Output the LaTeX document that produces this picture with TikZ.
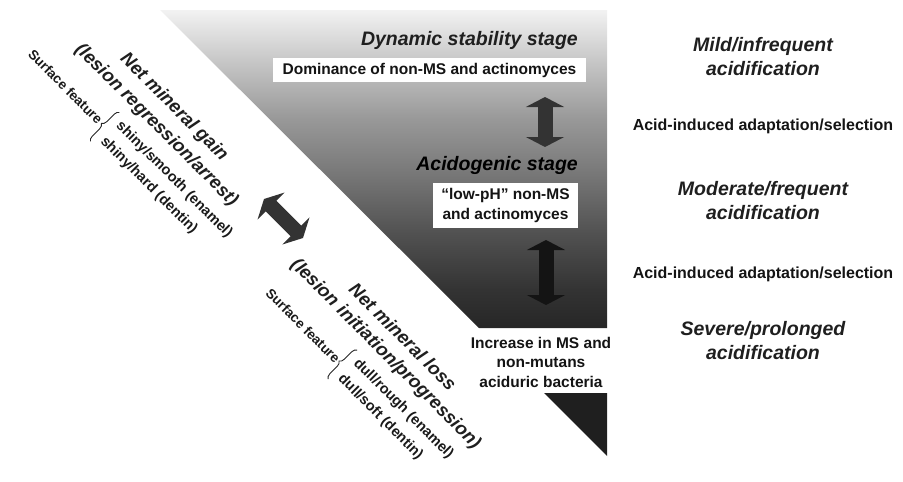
\documentclass[tikz,border=0pt]{standalone}
\usepackage{fontspec}
\setmainfont{Liberation Sans}
\usetikzlibrary{arrows.meta,decorations.pathreplacing}
\pgfdeclareverticalshading{stagegrad}{100bp}{color(0bp)=(black!85); color(25bp)=(black!85); color(31bp)=(black!80); color(40bp)=(black!68); color(50bp)=(black!52); color(58bp)=(black!40); color(67bp)=(black!22); color(75bp)=(black!5); color(100bp)=(black!5)}
\begin{document}
\begin{tikzpicture}[x=1pt,y=-1pt,
  hdr/.style={font=\fontsize{19.5}{24}\selectfont\bfseries\itshape, text=black!88, inner sep=0pt, align=center},
  rhdr/.style={font=\fontsize{18.5}{22}\selectfont\bfseries\itshape, text=black!88, inner sep=0pt, align=center},
  body/.style={font=\fontsize{15.5}{19.5}\selectfont\bfseries, text=black!92, inner sep=0pt, align=center},
  rbody/.style={font=\fontsize{16}{19.5}\selectfont\bfseries, text=black!92, inner sep=0pt, align=center},
  surflab/.style={font=\fontsize{13.5}{16}\selectfont\bfseries, text=black!90, inner sep=0pt},
  featline/.style={font=\fontsize{14.5}{17}\selectfont\bfseries, text=black!90, inner sep=0pt},
  wbox/.style={body, fill=white},
  bigarrow/.style={line width=15pt, draw=black!80, {Triangle[width=38pt,length=10pt]}-{Triangle[width=38pt,length=10pt]}},
  curly/.style={decorate, decoration={brace, amplitude=5pt}, line width=0.9pt, draw=black!85}]
\useasboundingbox (0,0) rectangle (903,482);
% stage triangle
\path[shading=stagegrad] (160,10) -- (607,10) -- (607,328) -- (479,328) -- cycle;
\fill[black!88] (544,393) -- (607,393) -- (607,456) -- cycle;

% stage texts
\node[hdr, anchor=east] (dyn) at (578,40) {Dynamic stability stage};
\node[wbox, minimum width=313pt, minimum height=24pt] (dom) at (429.5,70) {Dominance of non-MS and actinomyces};
\node[hdr, anchor=east, text=black] (acid) at (578,165) {Acidogenic stage};
\node[wbox, minimum width=145pt, minimum height=45pt] (lowph) at (505.5,205.5) {“low-pH” non-MS\\and actinomyces};
\node[body] (incr) at (541,362) {Increase in MS and\\non-mutans\\aciduric bacteria};

% arrows
\coordinate (ua1) at (545,97);
\coordinate (ua2) at (545,147);
\coordinate (la1) at (546,240);
\coordinate (la2) at (546,305);
\coordinate (da1) at (264,199);
\coordinate (da2) at (303,238);
\draw[bigarrow] (ua1) -- (ua2);
\draw[bigarrow, draw=black!92] (la1) -- (la2);
\draw[bigarrow] (da1) -- (da2);

% right column
\node[hdr] (mild) at (763,57) {Mild/infrequent\\acidification};
\node[rbody] (aia1) at (763,126) {Acid-induced adaptation/selection};
\node[hdr] (mod) at (763,201) {Moderate/frequent\\acidification};
\node[rbody] (aia2) at (763,274) {Acid-induced adaptation/selection};
\node[hdr] (sev) at (763,341) {Severe/prolonged\\acidification};

% rotated texts
\begin{scope}[rotate=-45, transform shape]
  \node[rhdr] (gain1) at (199,-47) {Net mineral gain};
  \node[rhdr] (gain2) at (199,-22) {(lesion regression/arrest)};
  \node[surflab, anchor=east] (sfg) at (157,15) {Surface feature};
  \coordinate (bg1) at (164,36);
  \coordinate (bg2) at (164,-5);
  \draw[curly] (bg1) -- (bg2);
  \node[featline, anchor=west] (sh1) at (171,4) {shiny/smooth (enamel)};
  \node[featline, anchor=west] (sh2) at (171,26) {shiny/hard (dentin)};

  \node[rhdr] (loss1) at (523,-47) {Net mineral loss};
  \node[rhdr] (loss2) at (523,-22) {(lesion initiation/progression)};
  \node[surflab, anchor=east] (sfl) at (494,16) {Surface feature};
  \coordinate (bl1) at (500,36);
  \coordinate (bl2) at (500,-5);
  \draw[curly] (bl1) -- (bl2);
  \node[featline, anchor=west] (du1) at (507,4) {dull/rough (enamel)};
  \node[featline, anchor=west] (du2) at (507,26) {dull/soft (dentin)};
\end{scope}
\end{tikzpicture}
\end{document}
